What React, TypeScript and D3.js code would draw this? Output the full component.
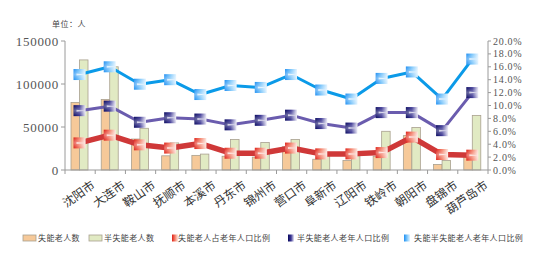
import React from "react";
import * as d3 from "d3";

const categories = ["沈阳市", "大连市", "鞍山市", "抚顺市", "本溪市", "丹东市", "锦州市", "营口市", "阜新市", "辽阳市", "铁岭市", "朝阳市", "盘锦市", "葫芦岛市"];
const disabledCount = [78500, 82000, 36000, 16500, 17000, 16000, 15000, 27000, 12500, 11000, 16000, 40000, 6500, 18000];
const semiDisabledCount = [128000, 120000, 48500, 31500, 18500, 35500, 32000, 35500, 16500, 16500, 45000, 49500, 11000, 63500];
const disabledRate = [4.2, 5.4, 3.9, 3.4, 4.1, 2.6, 2.6, 3.4, 2.5, 2.5, 2.7, 5.1, 2.4, 2.3];
const semiRate = [9.2, 9.9, 7.4, 8.1, 7.9, 7.0, 7.7, 8.5, 7.2, 6.5, 8.9, 8.9, 6.1, 12.0];
const totalRate = [14.8, 16.0, 13.3, 14.0, 11.7, 13.1, 12.8, 14.8, 12.4, 11.0, 14.2, 15.2, 11.0, 17.2];
const leftTicks = [0, 50000, 100000, 150000];
const rightTicks = [0, 2, 4, 6, 8, 10, 12, 14, 16, 18, 20];
const legendLabels = ["失能老人数", "半失能老人数", "失能老人占老年人口比例", "半失能老人老年人口比例", "失能半失能老人老年人口比例"];

const CJK = "'Noto Sans CJK SC', sans-serif";
const SERIF = "'Liberation Serif', 'DejaVu Serif', serif";

export default function App() {
  const x = d3.scaleBand<string>().domain(categories).range([65, 488]).padding(0);
  const yL = d3.scaleLinear().domain([0, 150000]).range([170, 41]);
  const yR = d3.scaleLinear().domain([0, 20]).range([170, 41]);
  const bw = 8.5;
  const cx = (c: string) => (x(c) as number) + x.bandwidth() / 2 - 0.6;

  const lineGen = (vals: number[]) =>
    d3.line<number>().x((_, i) => cx(categories[i])).y((v) => yR(v))(vals) as string;

  const series = [
    { vals: disabledRate, color: "#cf3838", width: 5.5, grad: "gRed" },
    { vals: semiRate, color: "#6a5cae", width: 3, grad: "gPur" },
    { vals: totalRate, color: "#0b9ae8", width: 3, grad: "gBlu" },
  ];

  const marker = (px: number, py: number, grad: string, key: string) => (
    <g key={key}>
      <rect x={px - 6} y={py - 5.5} width={12} height={11} fill={`url(#${grad})`} />
      <rect x={px - 6} y={py - 5.5} width={12} height={11} fill="url(#gV)" />
      <path d={`M${px - 3},${py - 1} L${px + 5},${py} L${px - 3},${py + 1} Z`} fill="#ffffff" opacity={0.7} />
    </g>
  );

  const legendItems = [
    { kind: "bar", fill: "#f6c999", x: 23, tx: 38 },
    { kind: "bar", fill: "#e1eac3", x: 89, tx: 104 },
    { kind: "mk", grad: "gRed", x: 172, tx: 178 },
    { kind: "mk", grad: "gPur", x: 288, tx: 297 },
    { kind: "mk", grad: "gBlu", x: 404, tx: 414 },
  ];

  return (
    <svg width={554} height={257} style={{ position: "absolute", left: 0, top: 0, background: "#fff" }}>
      <defs>
        <linearGradient id="gRed" x1="0" y1="0" x2="1" y2="0">
          <stop offset="0" stopColor="#de1f16" />
          <stop offset="0.5" stopColor="#f4806a" />
          <stop offset="1" stopColor="#fde6de" />
        </linearGradient>
        <linearGradient id="gPur" x1="0" y1="0" x2="1" y2="0">
          <stop offset="0" stopColor="#08085e" />
          <stop offset="0.5" stopColor="#3a3593" />
          <stop offset="1" stopColor="#ebe9f6" />
        </linearGradient>
        <linearGradient id="gBlu" x1="0" y1="0" x2="1" y2="0">
          <stop offset="0" stopColor="#1f8ff2" />
          <stop offset="0.5" stopColor="#7cc6fb" />
          <stop offset="1" stopColor="#e2f3ff" />
        </linearGradient>
        <linearGradient id="gV" x1="0" y1="0" x2="0" y2="1">
          <stop offset="0" stopColor="#ffffff" stopOpacity={0} />
          <stop offset="0.5" stopColor="#ffffff" stopOpacity={0.35} />
          <stop offset="1" stopColor="#ffffff" stopOpacity={0} />
        </linearGradient>
      </defs>

      <text x={52} y={27} fontFamily={CJK} fontSize={8} fill="#444" letterSpacing={0.5}>单位：人</text>

      {/* bars */}
      {categories.map((c, i) => (
        <g key={c}>
          <rect x={cx(c) - bw} y={yL(disabledCount[i])} width={bw} height={170 - yL(disabledCount[i])} fill="#f6c999" stroke="#a9a08f" strokeWidth={0.8} />
          <rect x={cx(c)} y={yL(semiDisabledCount[i])} width={bw} height={170 - yL(semiDisabledCount[i])} fill="#e1eac3" stroke="#a9a08f" strokeWidth={0.8} />
        </g>
      ))}

      {/* axes */}
      <line x1={65} y1={41} x2={65} y2={170} stroke="#9a9a9a" strokeWidth={1} />
      {leftTicks.map((t) => (
        <g key={t}>
          <line x1={61} y1={yL(t)} x2={65} y2={yL(t)} stroke="#9a9a9a" />
          <text x={59} y={yL(t)} dy="0.35em" textAnchor="end" fontFamily={SERIF} fontSize={13} letterSpacing={0.7} fill="#555">{t}</text>
        </g>
      ))}
      <line x1={488} y1={41} x2={488} y2={170} stroke="#9a9a9a" strokeWidth={1} />
      {rightTicks.map((t) => (
        <g key={t}>
          <line x1={488} y1={yR(t)} x2={491} y2={yR(t)} stroke="#9a9a9a" />
          <text x={493} y={yR(t)} dy="0.35em" fontFamily={SERIF} fontSize={10} letterSpacing={0.7} fill="#555">{t.toFixed(1) + "%"}</text>
        </g>
      ))}
      <line x1={65} y1={170} x2={488} y2={170} stroke="#9a9a9a" strokeWidth={1} />
      {categories.map((c) => (
        <line key={"t" + c} x1={x(c) as number} y1={170} x2={x(c) as number} y2={174} stroke="#9a9a9a" />
      ))}
      <line x1={488} y1={170} x2={488} y2={174} stroke="#9a9a9a" />

      {/* lines */}
      {series.map((s) => (
        <path key={s.grad} d={lineGen(s.vals)} fill="none" stroke={s.color} strokeWidth={s.width} strokeLinejoin="round" />
      ))}
      {series.map((s) =>
        s.vals.map((v, i) => marker(cx(categories[i]), yR(v), s.grad, s.grad + i))
      )}

      {/* x labels */}
      {categories.map((c) => (
        <text key={"l" + c} transform={`translate(${cx(c) + 10},${178}) rotate(-35)`} textAnchor="end" dominantBaseline="hanging" fontFamily={CJK} fontSize={12} fill="#333">{c}</text>
      ))}

      {/* legend */}
      {legendItems.map((it, i) => (
        <g key={"lg" + i}>
          {it.kind === "bar" ? (
            <rect x={it.x} y={235} width={13} height={6} fill={it.fill} stroke="#a9a08f" strokeWidth={0.8} />
          ) : (
            <rect x={it.x} y={234.5} width={6} height={7} fill={`url(#${it.grad})`} />
          )}
          <text x={it.tx} y={238} dy="0.35em" fontFamily={CJK} fontSize={8} letterSpacing={0.4} fill="#444">{legendLabels[i]}</text>
        </g>
      ))}
    </svg>
  );
}
